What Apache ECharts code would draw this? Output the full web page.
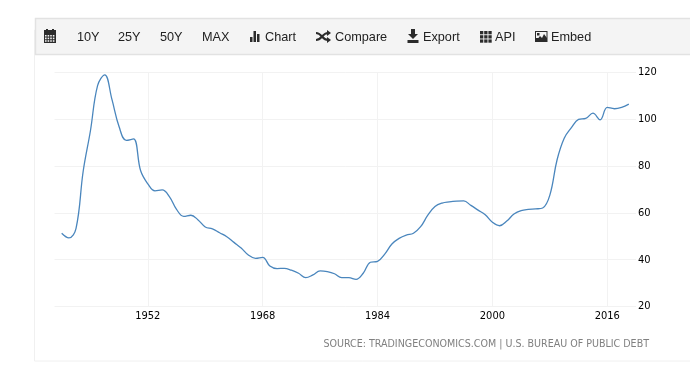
<!DOCTYPE html>
<html>
<head>
<meta charset="utf-8">
<style>
html, body { margin: 0; padding: 0; background: #fff; }
#chart { width: 690px; height: 368px; }
</style>
</head>
<body>
<div id="chart"></div>
<script src="https://cdn.jsdelivr.net/npm/echarts@6/dist/echarts.min.js"></script>
<script>
var years = [];
for (var yr = 1940; yr <= 2019; yr++) years.push(yr);
var debtValues = [
  51.3, 49.3, 53.4, 77.9, 95, 114.4, 119, 108.5, 96.8, 91,
  91.6, 78, 72.4, 69.4, 69.8, 67, 61.5, 58.5, 59, 57,
  54, 53.2, 51.5, 49.8, 47.4, 45, 42, 40.6, 41, 37.3,
  36.2, 36.3, 35.5, 34.2, 32.3, 33.5, 35.2, 34.9, 34, 32.3,
  32.3, 31.6, 34.2, 38.9, 39.3, 42.4, 46.7, 49.1, 50.5, 51.3,
  54.1, 59, 62.7, 64.2, 64.7, 65, 65.1, 63.2, 61.2, 59.2,
  56, 54.5, 56.5, 59.5, 61, 61.5, 61.7, 62.1, 67.6, 82.6,
  91.9, 96.4, 100, 100.4, 102.6, 99.8, 105.1, 104.5, 105.1, 106.5
];
var xTicks = [1952, 1968, 1984, 2000, 2016];
var toolbarLabels = ['10Y', '25Y', '50Y', 'MAX', 'Chart', 'Compare', 'Export', 'API', 'Embed'];
var toolbarX = [77, 118, 160, 202, 265, 335, 423, 495, 551];
var sourceText = 'SOURCE: TRADINGECONOMICS.COM | U.S. BUREAU OF PUBLIC DEBT';

var myChart = echarts.init(document.getElementById('chart'), null, { renderer: 'canvas' });

var lineData = years.map(function (y, i) { return [y, debtValues[i]]; });
var iconColor = '#2b2b2b';

function box(x, y, w, h, fill) {
  return { type: 'rect', shape: { x: x, y: y, width: w, height: h }, style: { fill: fill || iconColor }, silent: true };
}
function tri(points) {
  return { type: 'polygon', shape: { points: points }, style: { fill: iconColor }, silent: true };
}
function curve(x1, y1, x2, y2) {
  var mid = (x1 + x2) / 2;
  return {
    type: 'bezierCurve', silent: true,
    shape: { x1: x1, y1: y1, x2: x2, y2: y2, cpx1: mid, cpy1: y1, cpx2: mid, cpy2: y2 },
    style: { fill: null, stroke: iconColor, lineWidth: 2 }
  };
}

var graphics = [
  // frame round the chart
  { type: 'rect', shape: { x: 34.5, y: 30, width: 700, height: 331 }, style: { fill: '#fff', stroke: '#f0f0f0', lineWidth: 1 }, silent: true, z: -10 },
  // toolbar
  { type: 'rect', shape: { x: 35.5, y: 18.5, width: 700, height: 36 }, style: { fill: '#f4f4f4', stroke: '#e2e2e2', lineWidth: 1.5 }, silent: true, z: -5 }
];

toolbarLabels.forEach(function (t, i) {
  graphics.push({
    type: 'text', x: toolbarX[i], y: 37,
    style: { text: t, fill: '#222', font: '12.7px "Liberation Sans", Arial, sans-serif', textVerticalAlign: 'middle' },
    silent: true
  });
});

// calendar
graphics.push(box(44, 30, 12, 13), box(46, 29, 2, 3), box(52, 29, 2, 3));
[0, 1, 2, 3].forEach(function (c) {
  [0, 1, 2].forEach(function (r) {
    graphics.push(box(45 + c * 2.6, 35 + r * 2.6, 1.6, 1.6, '#f4f4f4'));
  });
});
// bars
graphics.push(box(250, 37, 2.5, 5), box(253.5, 31, 2.5, 11), box(257, 34, 2.5, 8));
// shuffle
graphics.push(curve(316, 33, 328, 40), curve(316, 40, 328, 33));
graphics.push(tri([[327, 30], [331, 33], [327, 36]]), tri([[327, 37], [331, 40], [327, 43]]));
// download
graphics.push(box(411, 29, 4, 6), tri([[408, 34], [418, 34], [413, 39]]), box(407.5, 40, 11, 3));
// grid
[0, 1, 2].forEach(function (c) {
  [0, 1, 2].forEach(function (r) {
    graphics.push(box(480 + c * 4.2, 31 + r * 4.2, 3.3, 3.3));
  });
});
// image
graphics.push(box(535, 31, 12.5, 11), box(536, 32, 10.5, 6, '#f4f4f4'), box(537, 33, 2.5, 2.5));
graphics.push(tri([[536, 41], [540, 36], [542, 38], [544, 34], [547, 38], [547, 41]]));
// source line
graphics.push({
  type: 'text', x: 649, y: 344,
  style: { text: sourceText, fill: '#808080', font: '10.6px "DejaVu Sans Condensed", "DejaVu Sans", sans-serif', textAlign: 'right', textVerticalAlign: 'middle' },
  silent: true
});

var gridLine = { show: true, lineStyle: { color: '#f2f2f2', width: 1 } };

var option = {
  animation: false,
  backgroundColor: '#fff',
  grid: { left: 54.5, right: 54, top: 72.5, bottom: 61.5 },
  xAxis: {
    type: 'value',
    min: 1939,
    max: 2020,
    axisLine: { show: false },
    axisTick: { show: false, customValues: xTicks },
    splitLine: gridLine,
    axisLabel: {
      customValues: xTicks,
      color: '#000',
      fontSize: 11,
      fontFamily: 'DejaVu Sans Condensed',
      margin: 4,
      formatter: function (v) { return String(v); }
    }
  },
  yAxis: {
    type: 'value',
    position: 'right',
    min: 20,
    max: 120,
    interval: 20,
    axisLine: { show: false },
    axisTick: { show: false },
    splitLine: gridLine,
    axisLabel: { color: '#000', fontSize: 11, fontFamily: 'DejaVu Sans Condensed', margin: 2 }
  },
  series: [{
    type: 'line',
    data: lineData,
    smooth: 0.4,
    showSymbol: false,
    lineStyle: { color: '#4a86bd', width: 1.3 }
  }],
  graphic: graphics
};

myChart.setOption(option);
</script>
</body>
</html>
